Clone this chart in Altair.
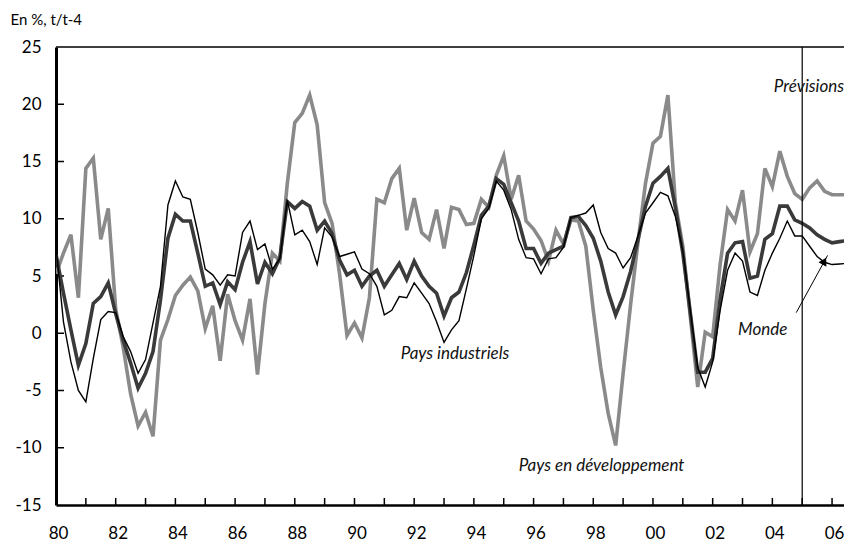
import altair as alt
import pandas as pd

# ---------------- data (quarterly, y/y %, starting 1980Q1) ----------------
start_year = 1980
forecast_start = 2005

developpement = [
    5.2, 7.0, 8.6, 3.1, 14.4, 15.3, 8.2, 10.9,
    2.1, -1.2, -5.3, -8.1, -6.9, -9.0, -0.6, 1.2,
    3.3, 4.2, 4.9, 3.7, 0.4, 2.4, -2.4, 3.4,
    1.1, -0.6, 3.0, -3.6, 2.6, 7.0, 6.3, 13.1,
    18.4, 19.2, 20.8, 18.2, 11.4, 9.6, 5.2, -0.2,
    0.9, -0.4, 3.1, 11.7, 11.4, 13.5, 14.4, 9.0,
    11.8, 8.8, 8.2, 10.8, 7.4, 11.0, 10.8, 9.5,
    9.6, 11.7, 11.0, 13.8, 15.5, 11.7, 13.8, 9.8,
    9.1, 8.1, 6.3, 9.0, 7.8, 9.9, 9.8, 7.6,
    2.0, -3.0, -7.0, -9.8, -3.5, 2.5, 8.0, 13.1,
    16.6, 17.2, 20.8, 11.4, 7.6, 1.5, -4.7, 0.1,
    -0.3, 6.0, 10.8, 9.8, 12.5, 7.1, 8.7, 14.4,
    12.8, 15.9, 13.7, 12.2, 11.7, 12.7, 13.3, 12.4,
    12.1, 12.1, 12.1,
]

monde = [
    6.9, 3.5, 0.3, -2.8, -0.9, 2.6, 3.2, 4.4,
    1.7, -0.6, -2.6, -4.8, -3.5, -1.6, 2.9, 8.3,
    10.4, 9.8, 9.8, 7.0, 4.1, 4.4, 2.5, 4.5,
    3.8, 6.2, 8.0, 4.3, 6.2, 5.2, 6.6, 11.5,
    10.9, 11.5, 11.1, 9.0, 9.8, 8.7, 6.4, 5.1,
    5.5, 4.1, 5.0, 5.5, 4.1, 5.1, 6.1, 4.7,
    6.3, 5.0, 4.1, 3.5, 1.5, 3.1, 3.6, 5.3,
    7.7, 10.3, 11.1, 13.5, 13.0, 11.4, 9.8, 7.4,
    7.4, 6.1, 7.0, 7.3, 7.6, 10.1, 10.2, 9.4,
    8.3, 6.3, 3.6, 1.6, 3.2, 5.4, 8.2, 11.1,
    13.1, 13.7, 14.4, 11.0, 7.0, 1.8, -3.4, -3.4,
    -2.2, 3.0, 7.0, 7.9, 8.0, 4.8, 5.0, 8.2,
    8.7, 11.1, 11.1, 9.9, 9.6, 9.2, 8.6, 8.2,
    7.9, 8.0, 8.1,
]

industriels = [
    7.5, 1.0, -2.5, -5.0, -6.0, -2.2, 1.2, 1.9,
    1.8, -0.3, -1.6, -3.5, -2.3, 0.9, 4.1, 11.2,
    13.3, 11.9, 11.7, 8.8, 5.6, 5.1, 4.2, 5.1,
    5.0, 8.8, 9.8, 7.3, 7.8, 5.6, 6.5, 11.6,
    8.6, 9.0, 8.0, 6.0, 9.2, 8.4, 6.7, 6.9,
    7.1, 5.6, 5.2, 4.1, 1.6, 2.0, 3.2, 3.1,
    4.4, 3.5, 2.6, 1.0, -0.8, 0.3, 1.1, 3.9,
    6.8, 10.0, 10.9, 13.3, 12.5, 10.8, 8.2, 6.6,
    6.5, 5.2, 6.5, 6.6, 7.5, 10.1, 10.3, 10.5,
    11.2, 8.8, 7.4, 7.0, 5.7, 6.6, 8.5, 10.5,
    11.4, 12.3, 12.0, 10.2, 7.2, 2.0, -3.0, -4.7,
    -2.5, 2.0, 5.5, 7.0, 6.3, 3.6, 3.3, 5.5,
    7.0, 8.3, 9.8, 8.5, 8.5, 7.6, 6.7, 6.2,
    6.0, 6.05, 6.1,
]

series_names = ["Pays en développement", "Monde", "Pays industriels"]
series_values = [developpement, monde, industriels]
series_colors = ["#8a8a8a", "#3a3a3a", "#000000"]
series_widths = [3.6, 3.6, 1.4]

x_label_years = list(range(1980, 2007, 2))
x_tick_years = list(range(1981, 2007))
y_values = [-15, -10, -5, 0, 5, 10, 15, 20, 25]
y_inner_ticks = [-10, -5, 0, 5, 10, 15, 20]

annot_text = ["Prévisions", "Pays industriels", "Pays en développement", "Monde"]
annot_t = [2004.05, 1991.55, 1995.5, 2002.85]
annot_v = [21.5, -1.8, -11.6, 0.3]

arrow_t = [2004.8, 2005.85]
arrow_v = [1.8, 6.8]
arrow_head_t = [2005.74]
arrow_head_v = [6.3]

# ---------------- build tables ----------------
rows = []
for name, vals in zip(series_names, series_values):
    for i, v in enumerate(vals):
        rows.append({"t": start_year + 0.25 * i, "v": v, "serie": name})
df = pd.DataFrame(rows)

W, H = 788, 458
X_DOMAIN = [1980, 2006.4]
Y_DOMAIN = [-15, 25]
FONT = "Lato"

xscale = alt.Scale(domain=X_DOMAIN, nice=False, zero=False)
yscale = alt.Scale(domain=Y_DOMAIN, nice=False, zero=False)

x_axis = alt.Axis(
    values=x_label_years,
    labelExpr="substring(toString(datum.value), 2)",
    domainWidth=2.5,
    domainColor="black",
    ticks=False,
    labelPadding=20,
    labelOffset=2,
    title="",
    labelFlush=False,
)
y_axis = alt.Axis(
    values=y_values,
    labelExpr="toString(datum.value)",
    domainWidth=3,
    domainColor="black",
    ticks=False,
    labelPadding=15,
    title="En %, t/t-4",
    titleAngle=0,
    titleX=-46,
    titleY=-28,
    titleAlign="left",
    titleBaseline="middle",
    titleFont=FONT,
    titleFontSize=15,
    titleFontWeight="normal",
    titleColor="black",
)

layers = []

# top border line
layers.append(
    alt.Chart(pd.DataFrame({"v": [25]}))
    .mark_rule(color="black", strokeWidth=1.5)
    .encode(y=alt.Y("v:Q", scale=yscale, axis=y_axis))
)

# inward x ticks
layers.append(
    alt.Chart(pd.DataFrame({"t": x_tick_years}))
    .mark_rule(color="black", strokeWidth=1.5)
    .encode(
        x=alt.X("t:Q", scale=xscale, axis=x_axis),
        y=alt.value(H - 7),
        y2=alt.value(H),
    )
)

# inward y ticks
layers.append(
    alt.Chart(pd.DataFrame({"v": y_inner_ticks}))
    .mark_rule(color="black", strokeWidth=1.5)
    .encode(
        y=alt.Y("v:Q", scale=yscale),
        x=alt.value(0),
        x2=alt.value(8),
    )
)

# series lines
for name, color, width in zip(series_names, series_colors, series_widths):
    layers.append(
        alt.Chart(df)
        .transform_filter(alt.datum.serie == name)
        .mark_line(color=color, strokeWidth=width, clip=True, strokeJoin="miter")
        .encode(
            x=alt.X("t:Q", scale=xscale),
            y=alt.Y("v:Q", scale=yscale),
        )
    )

# forecast vertical line
layers.append(
    alt.Chart(pd.DataFrame({"t": [forecast_start]}))
    .mark_rule(color="black", strokeWidth=1.2)
    .encode(x=alt.X("t:Q", scale=xscale))
)

# annotation labels
layers.append(
    alt.Chart(pd.DataFrame({"t": annot_t, "v": annot_v, "label": annot_text}))
    .mark_text(font=FONT, fontSize=17, fontStyle="italic", align="left",
               baseline="middle", color="#111111")
    .encode(x=alt.X("t:Q", scale=xscale), y=alt.Y("v:Q", scale=yscale), text="label:N")
)

# arrow for "Monde"
layers.append(
    alt.Chart(pd.DataFrame({"t": arrow_t, "v": arrow_v}))
    .mark_line(color="black", strokeWidth=1)
    .encode(x=alt.X("t:Q", scale=xscale), y=alt.Y("v:Q", scale=yscale))
)
layers.append(
    alt.Chart(pd.DataFrame({"t": arrow_head_t, "v": arrow_head_v}))
    .mark_point(shape="triangle-up", filled=True, color="black", opacity=1,
                size=80, angle=29)
    .encode(x=alt.X("t:Q", scale=xscale), y=alt.Y("v:Q", scale=yscale))
)

chart = (
    alt.layer(*layers)
    .properties(
        width=W,
        height=H,
        autosize=alt.AutoSizeParams(type="none"),
        padding={"left": 48, "top": 39, "right": 0, "bottom": 41},
        background="white",
    )
    .configure_view(strokeWidth=0)
    .configure_axis(
        labelFont=FONT,
        labelFontSize=17,
        labelColor="black",
        grid=False,
    )
)

chart.save("out.html", embed_options={"renderer": "svg", "actions": False})
